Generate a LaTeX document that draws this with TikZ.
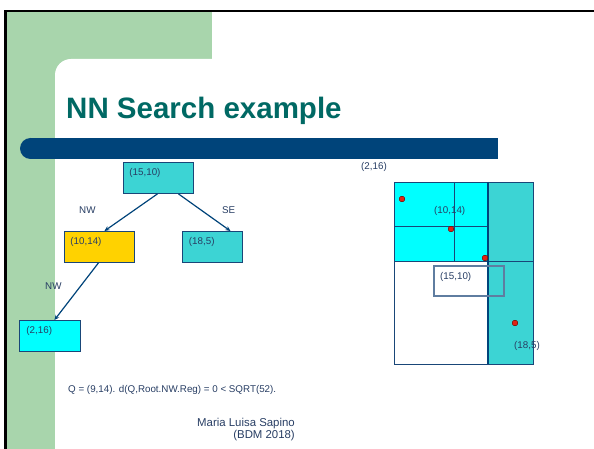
\documentclass[tikz,border=0pt]{standalone}
\usepackage{fontspec}
\setmainfont{Liberation Sans}
\usetikzlibrary{arrows.meta}
\definecolor{slidegreen}{RGB}{168,213,172}
\definecolor{titleteal}{RGB}{0,105,100}
\definecolor{barblue}{RGB}{0,68,122}
\definecolor{turq}{RGB}{60,212,212}
\definecolor{cyanfill}{RGB}{0,255,255}
\definecolor{goldfill}{RGB}{255,210,0}
\definecolor{nodeborder}{RGB}{25,70,120}
\definecolor{textblue}{RGB}{40,62,100}
\definecolor{querycol}{RGB}{95,125,160}
\definecolor{dotred}{RGB}{225,35,20}
\begin{document}
\begin{tikzpicture}[x=1pt,y=-1pt,
  smalltext/.style={font=\fontsize{9.8}{11.8}\selectfont, text=textblue, inner sep=0pt},
  tbox/.style={draw=nodeborder, line width=0.9pt, anchor=north west, inner ysep=0pt,
    text height=13pt, text depth=18pt, align=left, font=\fontsize{9.8}{11.8}\selectfont, text=textblue},
  arr/.style={draw=barblue, line width=1.2pt, -{Stealth[length=5pt,width=4.5pt]}},
  gridline/.style={draw=nodeborder, line width=0.8pt},
  reddot/.style={fill=dotred, draw=black!60!dotred, line width=0.3pt}
]
\useasboundingbox (0,0) rectangle (594,449);
\fill[white] (0,0) rectangle (594,449);
% slide background
\fill[slidegreen] (7,12) rectangle (212,449);
\fill[white, rounded corners=16pt] (55,470) -- (55,59) -- (250,59) -- (250,470) -- cycle;
\fill[white] (212,12) rectangle (594,59);
\draw[black, line width=2.8pt] (5.5,449) -- (5.5,11) -- (594,11);
% title
\node[anchor=base west, inner sep=0pt, font=\fontsize{29.5}{31}\selectfont\bfseries, text=titleteal] (title) at (66,119) {NN Search example};
% bar
\fill[barblue] (30.5,138) rectangle (498,159);
\fill[barblue] (30.5,148.5) circle (10.5pt);
% tree
\node[tbox, fill=turq, text width=58pt, inner xsep=6pt] (r) at (123,162) {(15,10)};
\node[tbox, fill=goldfill, text width=58pt, inner xsep=6pt] (a) at (64,231) {(10,14)};
\node[tbox, fill=turq, text width=47pt, inner xsep=6.5pt] (b) at (182,231) {(18,5)};
\node[tbox, fill=cyanfill, text width=47pt, inner xsep=7pt] (d) at (19,320) {(2,16)};
\draw[arr] ([xshift=-1pt]r.south) -- ([xshift=5pt]a.north);
\draw[arr] ([xshift=20pt]r.south) -- ([xshift=18pt]b.north);
\draw[arr] ([xshift=-1pt]a.south) -- ([xshift=4.5pt]d.north);
\node[smalltext, anchor=base west] (lnw1) at (79,213) {NW};
\node[smalltext, anchor=base west] (lse) at (222,213) {SE};
\node[smalltext, anchor=base west] (lnw2) at (45,289) {NW};
% region diagram
\fill[cyanfill] (394,182) rectangle (488,261);
\fill[turq] (488,182) rectangle (533,364);
\draw[gridline] (454,182) -- (454,261);
\draw[gridline] (394,226) -- (488,226);
\draw[gridline] (394,261) -- (533,261);
\draw[gridline] (394,182) rectangle (533,364);
\draw[draw=barblue, line width=2pt] (488,182) -- (488,364);
\draw[draw=querycol, line width=1.3pt] (434,266) rectangle (504,296);
\fill[reddot] (402,199) circle (2.8pt);
\fill[reddot] (451,229) circle (2.8pt);
\fill[reddot] (485,258) circle (2.8pt);
\fill[reddot] (515,323) circle (2.8pt);
\draw[reddot] (402,199) circle (2.8pt);
\draw[reddot] (451,229) circle (2.8pt);
\draw[reddot] (485,258) circle (2.8pt);
\draw[reddot] (515,323) circle (2.8pt);
\node[smalltext, anchor=base west] (p216) at (361,170) {(2,16)};
\node[smalltext, anchor=base west] (p1014) at (434,213) {(10,14)};
\node[smalltext, anchor=base west] (p1510) at (440,279) {(15,10)};
\node[smalltext, anchor=base west] (p185) at (514,348) {(18,5)};
% bottom texts
\node[smalltext, anchor=base west] (q) at (68,392) {Q = (9,14). d(Q,Root.NW.Reg) = 0 < SQRT(52).};
\node[anchor=base east, inner sep=0pt, font=\fontsize{11.4}{13}\selectfont, text=textblue] (auth) at (295,426) {Maria Luisa Sapino};
\node[anchor=base east, inner sep=0pt, font=\fontsize{11.4}{13}\selectfont, text=textblue] (bdm) at (295,438.5) {(BDM 2018)};
\end{tikzpicture}
\end{document}
